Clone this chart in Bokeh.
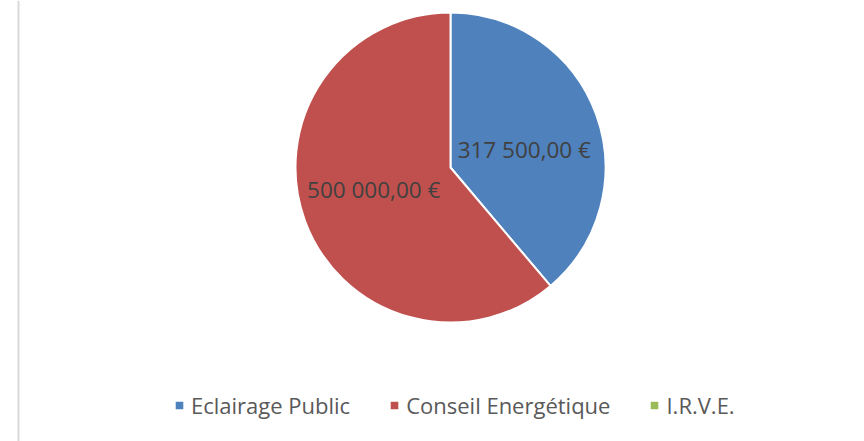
import math
from bokeh.plotting import figure
from bokeh.models import ColumnDataSource, Range1d, Span
from bokeh.core.properties import value
from bokeh.embed import file_html
from bokeh.resources import INLINE

# ---- data ----
categories = ["Eclairage Public", "Conseil Energétique", "I.R.V.E."]
amounts = [317500.00, 500000.00, 0.00]
label_texts = ["317 500,00 €", "500 000,00 €", ""]
colors = ["#4F81BD", "#C0504D", "#9BBB59"]

# ---- layout (pixels) ----
W, H = 864, 441
cx, cy, R = 450, 274, 155
label_nudge = [(1, -9), (-4, 5), (0, 0)]

total = sum(amounts)
starts, ends, lx, ly, radii = [], [], [], [], []
acc = 0.0
for i, a in enumerate(amounts):
    a0 = acc / total * 2 * math.pi
    acc += a
    a1 = acc / total * 2 * math.pi
    starts.append(math.pi / 2 - a0)
    ends.append(math.pi / 2 - a1)
    radii.append(R if a > 0 else 0)
    mid = (a0 + a1) / 2
    lx.append(cx + 0.5 * R * math.sin(mid) + label_nudge[i][0])
    ly.append(cy + 0.5 * R * math.cos(mid) + label_nudge[i][1])

src = ColumnDataSource(dict(name=categories, start=starts, end=ends, color=colors,
                            lx=lx, ly=ly, txt=label_texts, r=radii,
                            x=[cx] * 3, y=[cy] * 3))

p = figure(width=W, height=H, output_backend="svg", toolbar_location=None,
           x_range=Range1d(0, W), y_range=Range1d(0, H),
           x_axis_location=None, y_axis_location=None,
           min_border=0, min_border_left=0, min_border_right=0,
           min_border_top=0, min_border_bottom=0, tools="")
p.grid.visible = False
p.outline_line_color = None
p.background_fill_color = "white"
p.border_fill_color = "white"

p.wedge(x="x", y="y", radius="r", start_angle="start", end_angle="end",
        direction="clock", fill_color="color", line_color="white", line_width=2,
        legend_field="name", source=src)

p.text(x="lx", y="ly", text="txt", source=src, text_align="center",
       text_baseline="alphabetic", text_font=value("Open Sans"),
       text_font_size="22.5px", text_color="#404040")

p.add_layout(Span(location=18, dimension="height", line_color="#d9d9d9", line_width=2))

lg = p.legend[0]
lg.orientation = "horizontal"
lg.location = (173, 21)
lg.border_line_color = None
lg.background_fill_alpha = 0
lg.padding = 0
lg.margin = 0
lg.spacing = 38
lg.glyph_width = 12
lg.glyph_height = 12
lg.label_standoff = 6
lg.label_text_font = "Open Sans"
lg.label_text_font_size = "22px"
lg.label_text_color = "#595959"

open("out.html", "w").write(file_html(p, INLINE))
